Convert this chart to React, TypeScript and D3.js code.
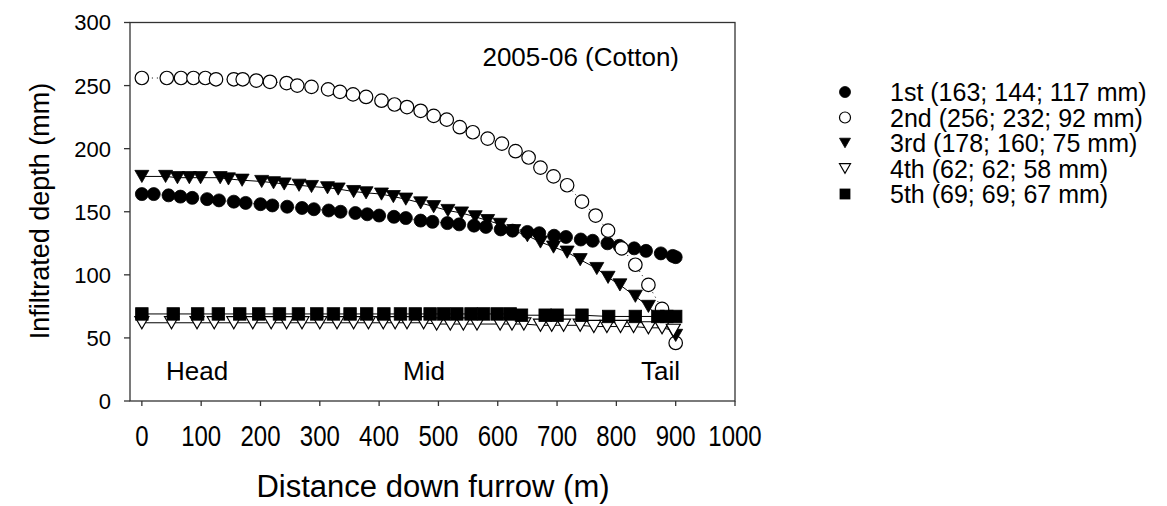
import * as d3 from "d3";

// distance down furrow (m) and infiltrated depth (mm) per irrigation
const dist1 = [0, 20, 45, 65, 85, 110, 130, 155, 175, 200, 220, 245, 270, 290, 315, 335, 360, 380, 400, 425, 445, 470, 490, 515, 535, 560, 580, 605, 625, 650, 670, 695, 715, 740, 760, 785, 805, 830, 850, 875, 895, 900];
const depth1 = [164, 164, 163, 162, 161, 160, 159, 158, 157, 156, 155, 154, 153, 152, 151, 150, 149, 148, 147, 146, 145, 143, 142, 141, 140, 139, 138, 136, 135, 134, 133, 131, 130, 128, 127, 125, 123, 121, 119, 117, 115, 114];

const dist2 = [0, 42, 66, 87, 107, 125, 155, 170, 193, 216, 244, 262, 286, 314, 334, 356, 378, 404, 426, 447, 470, 492, 514, 536, 558, 583, 607, 630, 652, 672, 694, 717, 742, 765, 786, 809, 832, 854, 877, 900];
const depth2 = [256, 256, 256, 256, 256, 255, 255, 255, 254, 253, 252, 250, 249, 247, 245, 243, 241, 238, 235, 233, 230, 226, 223, 217, 213, 208, 204, 198, 193, 185, 178, 171, 158, 147, 135, 121, 108, 92, 73, 46];

const dist3 = [0, 40, 60, 80, 99, 132, 146, 169, 202, 222, 240, 265, 286, 313, 331, 357, 378, 404, 424, 445, 470, 492, 516, 539, 562, 583, 604, 627, 650, 672, 694, 717, 739, 767, 786, 806, 832, 854, 877, 900];
const depth3 = [178, 178, 177, 177, 177, 177, 176, 175, 174, 173, 172, 171, 170, 169, 168, 166, 165, 164, 162, 160, 157, 154, 151, 149, 146, 143, 140, 135, 131, 126, 122, 118, 112, 105, 98, 92, 83, 75, 62, 52];

const dist4 = [0, 50, 93, 122, 155, 187, 218, 244, 270, 300, 329, 357, 382, 407, 427, 447, 475, 497, 520, 542, 565, 604, 624, 644, 672, 691, 711, 739, 762, 784, 807, 829, 854, 877, 896];
const depth4 = [62, 62, 62, 62, 62, 62, 62, 62, 62, 62, 62, 62, 62, 62, 62, 62, 62, 61, 61, 61, 61, 61, 61, 61, 60, 60, 60, 60, 59, 59, 59, 59, 58, 58, 56];

const dist5 = [0, 53, 94, 129, 165, 197, 232, 264, 295, 323, 351, 379, 408, 436, 461, 486, 509, 531, 555, 576, 599, 621, 640, 680, 700, 742, 787, 832, 870, 885, 900];
const depth5 = [69, 69, 69, 69, 69, 69, 69, 69, 69, 69, 69, 69, 69, 69, 69, 69, 69, 69, 69, 69, 69, 69, 68, 68, 68, 68, 67, 67, 67, 67, 67];

const legendLabels = ["1st (163; 144; 117 mm)", "2nd (256; 232; 92 mm)", "3rd (178; 160; 75 mm)", "4th (62; 62; 58 mm)", "5th (69; 69; 67 mm)"];
const xTicks = [0, 100, 200, 300, 400, 500, 600, 700, 800, 900, 1000];
const yTicks = [0, 50, 100, 150, 200, 250, 300];

const font = "Liberation Sans, Arial, Helvetica, sans-serif";

const series = [
  { d: dist1, v: depth1, kind: "circle", fill: "black", dash: "1,3" },
  { d: dist2, v: depth2, kind: "circle", fill: "white", dash: "1,4" },
  { d: dist3, v: depth3, kind: "tri", fill: "black", dash: null },
  { d: dist4, v: depth4, kind: "tri", fill: "white", dash: null },
  { d: dist5, v: depth5, kind: "square", fill: "black", dash: null },
];

const Marker = ({ kind, fill, x, y, s }: any) => {
  const stroke = "black";
  const sw = fill === "white" ? 1.2 : 0.8;
  if (kind === "circle") return <circle cx={x} cy={y} r={s / 2} fill={fill} stroke={stroke} strokeWidth={sw} />;
  if (kind === "square") return <rect x={x - s / 2} y={y - s / 2} width={s} height={s} fill={fill} stroke={stroke} strokeWidth={sw} />;
  const h = s * 0.87;
  const pts = `${x - s / 2},${y - h / 2} ${x + s / 2},${y - h / 2} ${x},${y + h / 2}`;
  return <polygon points={pts} fill={fill} stroke={stroke} strokeWidth={sw} />;
};

export default function App() {
  const left = 130, right = 735, top = 22.5, bottom = 401;
  const x = d3.scaleLinear().domain([-20, 1000]).range([left, right]);
  const y = d3.scaleLinear().domain([0, 300]).range([bottom, top]);
  const line = d3.line<[number, number]>().x((p) => x(p[0])).y((p) => y(p[1]));

  return (
    <svg width={1167} height={506} style={{ position: "absolute", left: 0, top: 0, background: "white" }} fontFamily={font}>
      <rect x={0} y={0} width={1167} height={506} fill="white" />
      {series.map((s, i) => {
        const pts = s.d.map((dv, k) => [dv, s.v[k]] as [number, number]);
        const size = s.kind === "circle" ? (s.fill === "white" ? 13.5 : 13) : s.kind === "square" ? 12.5 : 14;
        return (
          <g key={i}>
            <path d={line(pts) || ""} fill="none" stroke="black" strokeWidth={1} strokeDasharray={s.dash || undefined} />
            {pts.map((p, k) => (
              <Marker key={k} kind={s.kind} fill={s.fill} x={x(p[0])} y={y(p[1])} s={size} />
            ))}
          </g>
        );
      })}
      {/* frame */}
      <rect x={left} y={top} width={right - left} height={bottom - top} fill="none" stroke="#333" strokeWidth={1.3} />
      {yTicks.map((t) => (
        <g key={t}>
          <line x1={left - 6} x2={left} y1={y(t)} y2={y(t)} stroke="#333" strokeWidth={1.3} />
          <text x={111} y={y(t)} dy="0.36em" textAnchor="end" fontSize={22}>{t}</text>
        </g>
      ))}
      {xTicks.map((t) => (
        <g key={t}>
          <line x1={x(t)} x2={x(t)} y1={bottom} y2={bottom + 5} stroke="#333" strokeWidth={1.3} />
          <text transform={`translate(${x(t)},446) scale(1,1.25)`} textAnchor="middle" fontSize={24}>{t}</text>
        </g>
      ))}
      <text x={433} y={497} textAnchor="middle" fontSize={31}>Distance down furrow (m)</text>
      <text transform="translate(40,211) rotate(-90)" textAnchor="middle" fontSize={27} dy="0.35em">Infiltrated depth (mm)</text>
      <text x={679} y={66} textAnchor="end" fontSize={26}>2005-06 (Cotton)</text>
      <text x={166} y={380} fontSize={26}>Head</text>
      <text x={403} y={380} fontSize={26}>Mid</text>
      <text x={680} y={380} textAnchor="end" fontSize={26}>Tail</text>
      {legendLabels.map((lab, i) => {
        const cy = 92 + i * 25.5;
        const s = series[i];
        const size = s.kind === "circle" ? 11 : s.kind === "square" ? 10 : 11;
        return (
          <g key={lab}>
            <Marker kind={s.kind} fill={s.fill} x={845} y={cy} s={size} />
            <text x={890} y={cy} dy="0.36em" fontSize={25}>{lab}</text>
          </g>
        );
      })}
    </svg>
  );
}
